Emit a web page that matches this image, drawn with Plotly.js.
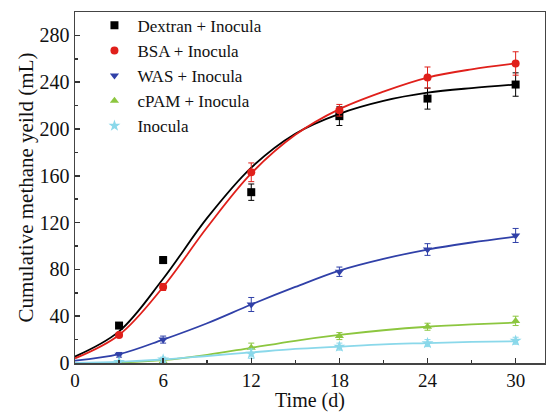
<!DOCTYPE html>
<html><head><meta charset="utf-8">
<script src="https://cdn.plot.ly/plotly-3.0.1.min.js"></script>
<style>html,body{margin:0;padding:0;background:#fff}#c{width:546px;height:412px}</style>
</head><body><div id="c"></div>
<script>
const days = [3, 6, 12, 18, 24, 30];
const dextran = [32, 88, 146, 211, 226, 238];
const dextranErr = [2, 3, 7, 8, 9, 10];
const bsa = [24, 65, 163, 216, 244, 256];
const bsaErr = [2, 3, 8, 5, 9, 10];
const was = [7, 20, 50, 78, 97, 109];
const wasErr = [2, 3, 6, 4, 5, 6];
const cpam = [0.5, 1.5, 13, 23, 31, 36];
const cpamErr = [1, 1, 4, 3, 3, 4];
const inocula = [1, 3, 8, 14, 17, 19];
const inoculaErr = [1, 2, 4, 3, 3, 3];

const fitDays = [0, 3, 6, 9, 12, 15, 18, 21, 24, 27, 30];
const dextranFit = [5.5, 27, 72, 124, 167, 196, 213, 224, 231, 235, 238];
const bsaFit = [4, 24, 65, 116, 162, 195, 217, 232, 244, 251, 256];
const wasFit = [2, 7.5, 20, 34, 50, 65, 79, 89, 97, 103, 108];
const cpamFit = [0, 0.4, 2.5, 7, 13, 19, 24, 28, 31, 33, 34.5];
const inoculaFit = [0, 1, 3, 6, 9, 12, 14, 16, 17, 18, 18.5];

const names = ['Dextran + Inocula', 'BSA + Inocula', 'WAS + Inocula', 'cPAM + Inocula', 'Inocula'];
const colors = ['#000000', '#e0201b', '#3040a8', '#8cc63f', '#8ad8ea'];
const symbols = ['square', 'circle', 'triangle-down', 'triangle-up', 'star'];
const pts = [dextran, bsa, was, cpam, inocula];
const errs = [dextranErr, bsaErr, wasErr, cpamErr, inoculaErr];
const fits = [dextranFit, bsaFit, wasFit, cpamFit, inoculaFit];

const traces = [];
for (let i = 0; i < 5; i++) {
  traces.push({
    x: fitDays, y: fits[i], mode: 'lines', type: 'scatter',
    line: {color: colors[i], width: 1.8, shape: 'spline'},
    showlegend: false, hoverinfo: 'skip'
  });
}
for (let i = 0; i < 5; i++) {
  traces.push({
    x: days, y: pts[i], mode: 'markers', type: 'scatter', name: names[i],
    marker: {color: colors[i], symbol: symbols[i], size: i === 4 ? 9 : 8},
    error_y: {type: 'data', array: errs[i], visible: true, color: colors[i], thickness: 1, width: 3}
  });
}

const font = {family: 'Liberation Serif, Times New Roman, serif', color: '#111'};
const layout = {
  width: 546, height: 412,
  margin: {l: 75, r: 1, t: 12, b: 49},
  paper_bgcolor: '#fff', plot_bgcolor: '#fff',
  font: Object.assign({size: 16}, font),
  showlegend: true,
  legend: {x: 0.035, y: 1.012, xanchor: 'left', yanchor: 'top', bgcolor: 'rgba(0,0,0,0)',
    font: Object.assign({size: 17}, font), tracegroupgap: 0, itemwidth: 36},
  xaxis: {
    range: [0, 32], tickvals: [0, 6, 12, 18, 24, 30], ticks: 'inside', ticklen: 5, tickwidth: 1.5,
    tickcolor: '#333', showline: true, linecolor: '#444', linewidth: 1.5, mirror: true,
    showgrid: false, zeroline: false,
    minor: {tickvals: [3, 9, 15, 21, 27], ticks: 'inside', ticklen: 3, tickcolor: '#333', showgrid: false},
    tickfont: Object.assign({size: 19}, font),
    title: {text: 'Time (d)', font: Object.assign({size: 20}, font), standoff: 2}
  },
  yaxis: {
    range: [0, 300], tickvals: [0, 40, 80, 120, 160, 200, 240, 280], ticks: 'inside', ticklen: 5, tickwidth: 1.5,
    tickcolor: '#333', showline: true, linecolor: '#444', linewidth: 1.5, mirror: true,
    showgrid: false, zeroline: false,
    minor: {tickvals: [20, 60, 100, 140, 180, 220, 260, 300], ticks: 'inside', ticklen: 3, tickcolor: '#333', showgrid: false},
    tickfont: Object.assign({size: 20}, font),
    title: {text: 'Cumulative methane yeild (mL)', font: Object.assign({size: 21}, font), standoff: 0}
  }
};
Plotly.newPlot('c', traces, layout, {displayModeBar: false, staticPlot: true});
</script></body></html>
